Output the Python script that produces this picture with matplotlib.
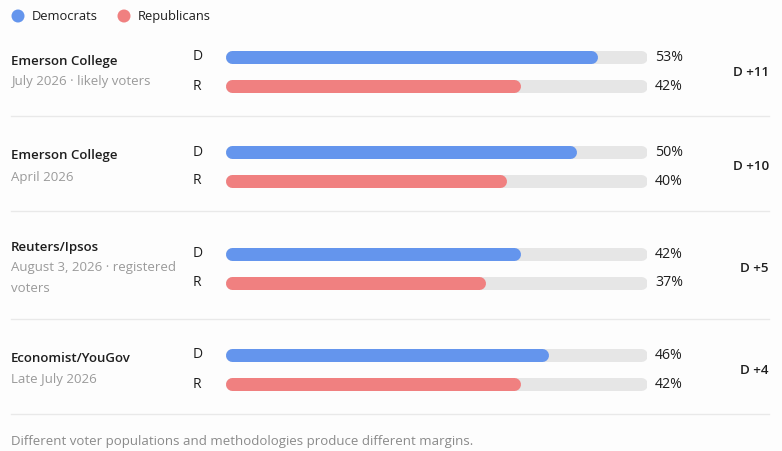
import matplotlib
matplotlib.use('Agg')
import matplotlib.pyplot as plt
from matplotlib.patches import Circle

plt.rcParams['font.family'] = ['Open Sans', 'DejaVu Sans']

# data
pollsters = ['Emerson College', 'Emerson College', 'Reuters/Ipsos', 'Economist/YouGov']
details = ['July 2026 · likely voters', 'April 2026',
           'August 3, 2026 · registered\nvoters', 'Late July 2026']
dem = [53, 50, 42, 46]
rep = [42, 40, 37, 42]
party_labels = ['Democrats', 'Republicans']
footer = 'Different voter populations and methodologies produce different margins.'

SCALE_MAX = 60  # bars are scaled to 60%, not 100%

BLUE = '#6495ed'
RED = '#f08080'
TRACK = '#e6e6e6'
BG = '#fdfdfd'
DARK = '#1e1e1e'
GREY = '#9a9a9a'
SEP = '#e9e9e9'

W, H = 782, 451
fig = plt.figure(figsize=(W / 100, H / 100), dpi=100, facecolor=BG)

# full-figure axes in pixel units for text and rules
ax = fig.add_axes([0, 0, 1, 1])
ax.set_xlim(0, W)
ax.set_ylim(H, 0)
ax.axis('off')

# axes for the bars: x in percent, y in pixels
bx0, bx1 = 225, 647
bax = fig.add_axes([bx0 / W, 0, (bx1 - bx0) / W, 1])
bax.set_xlim(0, SCALE_MAX)
bax.set_ylim(H, 0)
bax.axis('off')
bax.patch.set_alpha(0)

bar_px = 13
lw = bar_px * 72 / 100
cap = (bar_px / 2) / (bx1 - bx0) * SCALE_MAX

fs = 9.5

# legend
for i, (lab, col) in enumerate(zip(party_labels, [BLUE, RED])):
    x = 18 + i * 106
    ax.add_patch(Circle((x, 16), 6.5, color=col, lw=0))
    ax.text(x + 14, 16.5, lab, fontsize=9.3, color=DARK, va='center', ha='left')

top = 21
for i in range(len(pollsters)):
    nlines = details[i].count('\n') + 1
    height = 95 + (nlines - 1) * 13
    c = top + (height + 6) / 2

    # left text block
    block = [pollsters[i]] + details[i].split('\n')
    n = len(block)
    ys = [c + (k - (n - 1) / 2) * 21 for k in range(n)]
    ax.text(11, ys[0], block[0], fontsize=fs, fontweight='semibold',
            color=DARK, va='center', ha='left')
    for k in range(1, n):
        ax.text(11, ys[k], block[k], fontsize=fs, color=GREY,
                va='center', ha='left')

    for val, col, lab, yy in [(dem[i], BLUE, 'D', c - 14.5), (rep[i], RED, 'R', c + 14.5)]:
        bax.plot([cap, SCALE_MAX - cap], [yy, yy], color=TRACK, lw=lw,
                 solid_capstyle='round')
        bax.plot([cap, val - cap], [yy, yy], color=col, lw=lw,
                 solid_capstyle='round')
        ax.text(193, yy, lab, fontsize=10, color=DARK, va='center', ha='left')
        ax.text(655, yy + 0.5, f'{val}%', fontsize=10.2, color=DARK,
                va='center', ha='left')

    diff = dem[i] - rep[i]
    lead = 'D' if diff >= 0 else 'R'
    ax.text(769, c + 0.5, f'{lead} +{abs(diff)}', fontsize=9.6,
            fontweight='semibold', color=DARK, va='center', ha='right')

    top += height
    ax.plot([11, 769], [top, top], color=SEP, lw=1)

ax.text(11, 441, footer, fontsize=fs, color='#8a8a8a', va='center', ha='left')

fig.savefig('out.png', dpi=100, facecolor=BG)
